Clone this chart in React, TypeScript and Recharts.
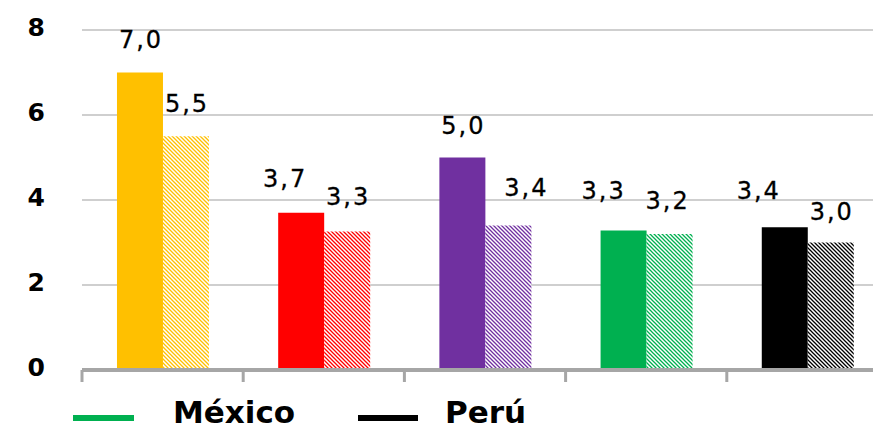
import React from 'react';
import { BarChart, Bar, XAxis, YAxis, CartesianGrid, Cell, Legend } from 'recharts';

const categories = ['A', 'B', 'C', 'D', 'E'];
const solidValues = [7.0, 3.7, 5.0, 3.28, 3.36];
const hatchedValues = [5.5, 3.26, 3.4, 3.2, 3.0];
const barColors = ['#FFC000', '#FF0000', '#7030A0', '#00B050', '#000000'];
const yTicks = [0, 2, 4, 6, 8];
const boundaryTicks = [0, 1, 2, 3, 4, 5];
const legendItems = [
  { name: 'México', color: '#00B050' },
  { name: 'Perú', color: '#000000' },
];

// label placement tweaks (pixels), as in the original manually-moved labels
const solidLabelDx = [0, -17, 0, -21, -27];
const solidLabelLift = [25, 26, 24, 32, 28];
const hatchedLabelDx = [0, 0, 17, -3, 0];
const hatchedLabelLift = [24, 26, 30, 25, 23];

const data = categories.map((c, i) => ({ cat: c, idx: i + 0.5, solid: solidValues[i], hatched: hatchedValues[i] }));

const fmt = (v: any) => Number(v).toFixed(1).replace('.', ',');

const makeLabel = (dxs: number[], lifts: number[]) => (props: any) => {
  const { x, y, width, value, index } = props;
  const i = index ?? 0;
  return (
    <text
      x={Number(x) + Number(width) / 2 + dxs[i] + 1}
      y={Number(y) - lifts[i]}
      textAnchor="middle"
      fontFamily="DejaVu Sans"
      fontSize={24}
      fill="#000"
      stroke="#000"
      strokeWidth={0.3}
      letterSpacing={2}
    >
      {fmt(value)}
    </text>
  );
};

const LegendContent = () => (
  <svg width={873} height={58} style={{ display: 'block' }}>
    <rect x={73} y={33} width={61} height={6} fill={legendItems[0].color} />
    <text x={173} y={41} fontFamily="DejaVu Sans" fontWeight="bold" fontSize={31} fill="#000">{legendItems[0].name}</text>
    <rect x={358} y={33} width={60} height={6} fill={legendItems[1].color} />
    <text x={445} y={41} fontFamily="DejaVu Sans" fontWeight="bold" fontSize={31} fill="#000">{legendItems[1].name}</text>
  </svg>
);

export default function App() {
  return (
    <div style={{ position: 'absolute', left: 0, top: 0, width: 873, height: 431, overflow: 'hidden', background: '#fff' }}>
      <svg width={0} height={0} style={{ position: 'absolute' }}>
        <defs>
          {barColors.map((c, i) => (
            <pattern key={i} id={`hatch-${i}`} patternUnits="userSpaceOnUse" width={4} height={4}>
              <rect width={4} height={4} fill="#fff" />
              <path d="M-1,-1 L5,5 M-1,3 L1,5 M3,-1 L5,1" stroke={c} strokeWidth={1.3} />
            </pattern>
          ))}
        </defs>
      </svg>
      <BarChart
        width={900}
        height={440}
        data={data}
        margin={{ top: 30, right: 12, left: 0, bottom: 0 }}
        barCategoryGap="21.7%"
        barGap={0}
      >
        <CartesianGrid horizontal vertical={false} stroke="#A0A0A0" strokeWidth={1.2} />
        <XAxis
          xAxisId="num"
          type="number"
          dataKey="idx"
          domain={[0, 5]}
          ticks={boundaryTicks}
          allowDataOverflow
          tickFormatter={() => ''}
          tickSize={12}
          height={12}
          axisLine={{ stroke: '#A6A6A6', strokeWidth: 4 }}
          tickLine={{ stroke: '#A6A6A6', strokeWidth: 3 }}
        />
        <XAxis xAxisId="cat" dataKey="cat" hide height={0} />
        <YAxis
          domain={[0, 8]}
          ticks={yTicks}
          width={82}
          axisLine={false}
          tickLine={false}
          tickSize={0}
          tickMargin={37}
          tick={{ fontFamily: 'DejaVu Sans', fontWeight: 'bold', fontSize: 25, fill: '#000', dy: -3 }}
        />
        <Legend verticalAlign="bottom" content={LegendContent} wrapperStyle={{ left: 0, width: 900 }} />
        <Bar xAxisId="cat" dataKey="solid" isAnimationActive={false} label={makeLabel(solidLabelDx, solidLabelLift)}>
          {data.map((_, i) => (
            <Cell key={i} fill={barColors[i]} />
          ))}
        </Bar>
        <Bar xAxisId="cat" dataKey="hatched" isAnimationActive={false} label={makeLabel(hatchedLabelDx, hatchedLabelLift)}>
          {data.map((_, i) => (
            <Cell key={i} fill={`url(#hatch-${i})`} />
          ))}
        </Bar>
      </BarChart>
    </div>
  );
}
